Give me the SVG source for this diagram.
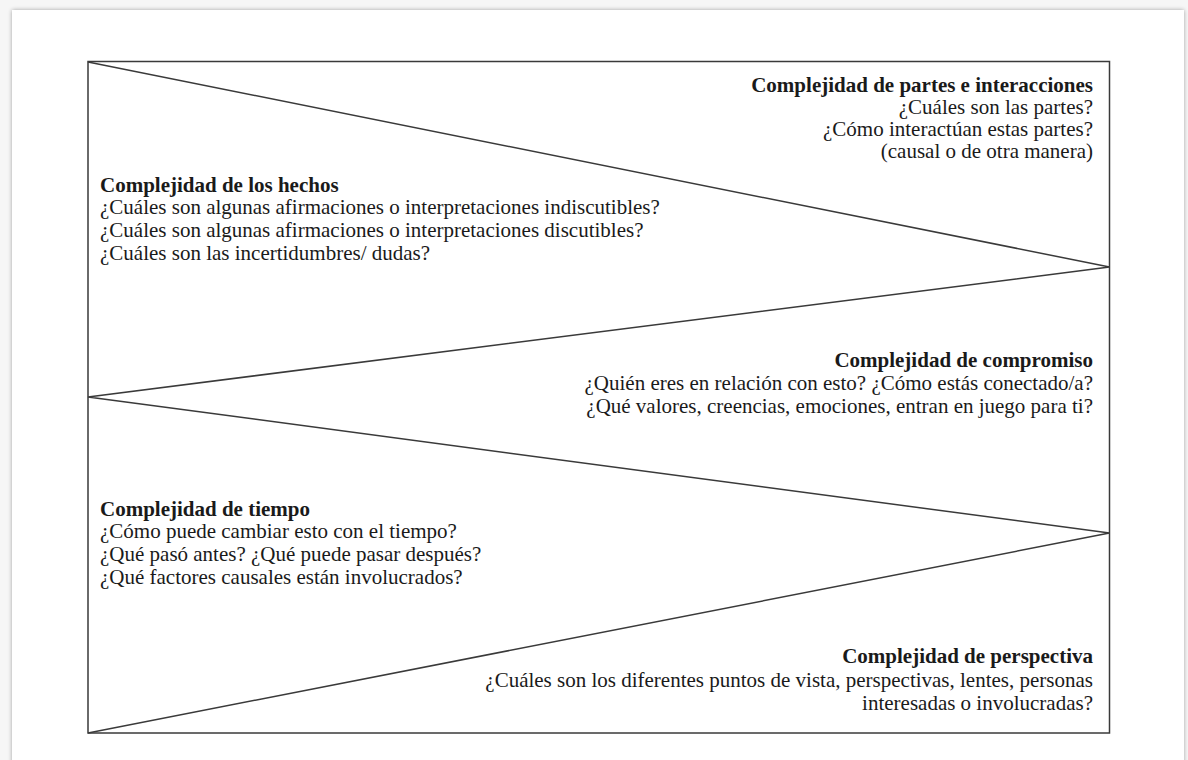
<svg xmlns="http://www.w3.org/2000/svg" width="1188" height="760" viewBox="0 0 1188 760">
  <defs>
    <filter id="shadow" x="-5%" y="-5%" width="110%" height="110%">
      <feGaussianBlur in="SourceAlpha" stdDeviation="2"/>
      <feOffset dx="0" dy="0" result="b"/>
      <feComponentTransfer><feFuncA type="linear" slope="0.35"/></feComponentTransfer>
      <feMerge><feMergeNode/><feMergeNode in="SourceGraphic"/></feMerge>
    </filter>
  </defs>
  <style>
    .t { font-family: "Liberation Serif", "Times New Roman", serif; font-size: 21px; fill: #1a1a1a; }
    .b { font-weight: bold; }
    .r { text-anchor: end; }
    .ln { fill: none; stroke: #3a3a3a; stroke-width: 1.5; }
  </style>
  <rect x="0" y="0" width="1188" height="760" fill="#f6f6f6"/>
  <rect x="12" y="10" width="1172" height="770" fill="#ffffff" filter="url(#shadow)"/>
  <g id="frame">
    <rect class="ln" x="88" y="61.5" width="1021.5" height="671.5"/>
  </g>
  <g id="connectors">
    <polyline class="ln" points="88,62 1109.5,267 88,397 1109.5,533 88,733"/>
  </g>
  <g id="node-partes">
    <text class="t b r" x="1093" y="92">Complejidad de partes e interacciones</text>
    <text class="t r" x="1093" y="114">¿Cuáles son las partes?</text>
    <text class="t r" x="1093" y="136">¿Cómo interactúan estas partes?</text>
    <text class="t r" x="1093" y="158">(causal o de otra manera)</text>
  </g>
  <g id="node-hechos">
    <text class="t b" x="100" y="192">Complejidad de los hechos</text>
    <text class="t" x="100" y="214">¿Cuáles son algunas afirmaciones o interpretaciones indiscutibles?</text>
    <text class="t" x="100" y="237">¿Cuáles son algunas afirmaciones o interpretaciones discutibles?</text>
    <text class="t" x="100" y="260">¿Cuáles son las incertidumbres/ dudas?</text>
  </g>
  <g id="node-compromiso">
    <text class="t b r" x="1093" y="367">Complejidad de compromiso</text>
    <text class="t r" x="1093" y="390">¿Quién eres en relación con esto? ¿Cómo estás conectado/a?</text>
    <text class="t r" x="1093" y="413">¿Qué valores, creencias, emociones, entran en juego para ti?</text>
  </g>
  <g id="node-tiempo">
    <text class="t b" x="100" y="516">Complejidad de tiempo</text>
    <text class="t" x="100" y="538">¿Cómo puede cambiar esto con el tiempo?</text>
    <text class="t" x="100" y="561">¿Qué pasó antes? ¿Qué puede pasar después?</text>
    <text class="t" x="100" y="584">¿Qué factores causales están involucrados?</text>
  </g>
  <g id="node-perspectiva">
    <text class="t b r" x="1093" y="663">Complejidad de perspectiva</text>
    <text class="t r" x="1093" y="687">¿Cuáles son los diferentes puntos de vista, perspectivas, lentes, personas</text>
    <text class="t r" x="1093" y="710">interesadas o involucradas?</text>
  </g>
</svg>
